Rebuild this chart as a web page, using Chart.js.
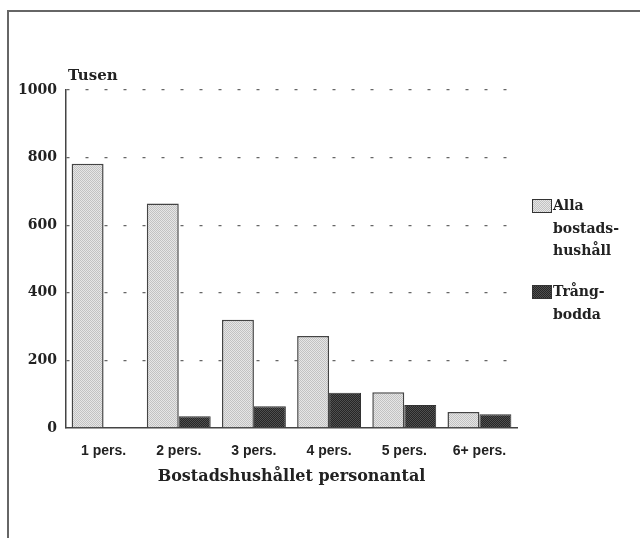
<!DOCTYPE html>
<html>
<head>
<meta charset="utf-8">
<script src="https://cdn.jsdelivr.net/npm/chart.js@4.4.0/dist/chart.umd.min.js"></script>
<style>
	body { margin: 0; background: #fff; }
	#wrap { position: relative; width: 640px; height: 538px; overflow: hidden; }
	#ram { position: absolute; left: 7px; top: 10px; width: 640px; height: 540px; border-top: 2px solid #666; border-left: 2px solid #666; }
	canvas { position: absolute; left: 0; top: 0; }
	.leg { position: absolute; font-family: 'DejaVu Serif', serif; font-weight: bold; font-size: 14px; line-height: 22.5px; color: #222; }
	.ruta { position: absolute; width: 18px; height: 12px; border: 1px solid #333; }
</style>
</head>
<body>
<div id="wrap">
	<div id="ram"></div>
	<canvas id="barChart" width="640" height="538"></canvas>
	<div class="ruta" id="ruta1" style="left:532px;top:199px;"></div>
	<div class="leg" style="left:553px;top:194px;">Alla<br>bostads-<br>hushåll</div>
	<div class="ruta" id="ruta2" style="left:532px;top:285px;"></div>
	<div class="leg" style="left:553px;top:280px;">Trång-<br>bodda</div>
</div>
<script>
var kategorier = ['1 pers.', '2 pers.', '3 pers.', '4 pers.', '5 pers.', '6+ pers.'];
var allaHushall = [782, 664, 320, 272, 106, 47];
var trangbodda = [0, 35, 64, 104, 68, 41];
var yTicks = [0, 200, 400, 600, 800, 1000];

// prickigt mönster för staplarna (2x2 schackruta)
function monster(a, b) {
	var c = document.createElement('canvas');
	c.width = 2;
	c.height = 2;
	var g = c.getContext('2d');
	g.fillStyle = a;
	g.fillRect(0, 0, 2, 2);
	g.fillStyle = b;
	g.fillRect(0, 0, 1, 1);
	g.fillRect(1, 1, 1, 1);
	return c;
}

var ljusC = monster('#e6e6e6', '#c2c2c2');
var morkC = monster('#262626', '#505050');
document.getElementById('ruta1').style.background = 'url(' + ljusC.toDataURL() + ')';
document.getElementById('ruta2').style.background = 'url(' + morkC.toDataURL() + ')';

var ctx = document.getElementById('barChart').getContext('2d');
var ljus = ctx.createPattern(ljusC, 'repeat');
var mork = ctx.createPattern(morkC, 'repeat');

// "Tusen" ovanför y-axeln
var tusenPlugin = {
	id: 'tusen',
	afterDraw: function(chart) {
		var c = chart.ctx;
		c.save();
		c.font = 'bold 15px "DejaVu Serif"';
		c.fillStyle = '#222';
		c.textBaseline = 'middle';
		c.fillText('Tusen', chart.chartArea.left + 2, chart.chartArea.top - 14);
		c.restore();
	}
};

new Chart(ctx, {
	type: 'bar',
	data: {
		labels: kategorier,
		datasets: [{
			label: 'Alla bostadshushåll',
			data: allaHushall,
			backgroundColor: ljus,
			borderColor: '#444',
			borderWidth: 1.5,
			borderSkipped: 'bottom',
			categoryPercentage: 0.85,
			barPercentage: 1.0
		}, {
			label: 'Trångbodda',
			data: trangbodda,
			backgroundColor: mork,
			borderColor: '#333',
			borderWidth: 1,
			borderSkipped: 'bottom',
			categoryPercentage: 0.85,
			barPercentage: 1.0
		}]
	},
	options: {
		responsive: false,
		animation: false,
		layout: { padding: { left: 8, right: 123, top: 90, bottom: 52 } },
		plugins: {
			legend: { display: false },
			tooltip: { enabled: false }
		},
		scales: {
			x: {
				afterFit: function(scale) { scale.height = 58; },
				grid: { display: false },
				border: { display: true, color: '#444', width: 1.5 },
				ticks: {
					color: '#222',
					padding: 7,
					font: { family: '"Liberation Sans"', size: 14, weight: 'bold' }
				},
				title: {
					display: true,
					text: 'Bostadshushållet personantal',
					color: '#222',
					padding: { top: 0, bottom: 0 },
					font: { family: '"DejaVu Serif"', size: 16, weight: 'bold' }
				}
			},
			y: {
				min: 0,
				max: 1000,
				afterFit: function(scale) { scale.width = 58; },
				afterBuildTicks: function(scale) {
					scale.ticks = yTicks.map(function(v) { return { value: v }; });
				},
				grid: {
					drawTicks: false,
					color: function(c) { return c.tick && c.tick.value === 0 ? 'rgba(0,0,0,0)' : '#666'; },
					lineWidth: 1.3
				},
				border: { display: true, color: '#444', width: 1.5, dash: [3, 16] },
				ticks: {
					color: '#222',
					padding: 9,
					callback: function(v) { return String(v); },
					font: { family: '"DejaVu Serif"', size: 14, weight: 'bold' }
				}
			}
		}
	},
	plugins: [tusenPlugin]
});
</script>
</body>
</html>
